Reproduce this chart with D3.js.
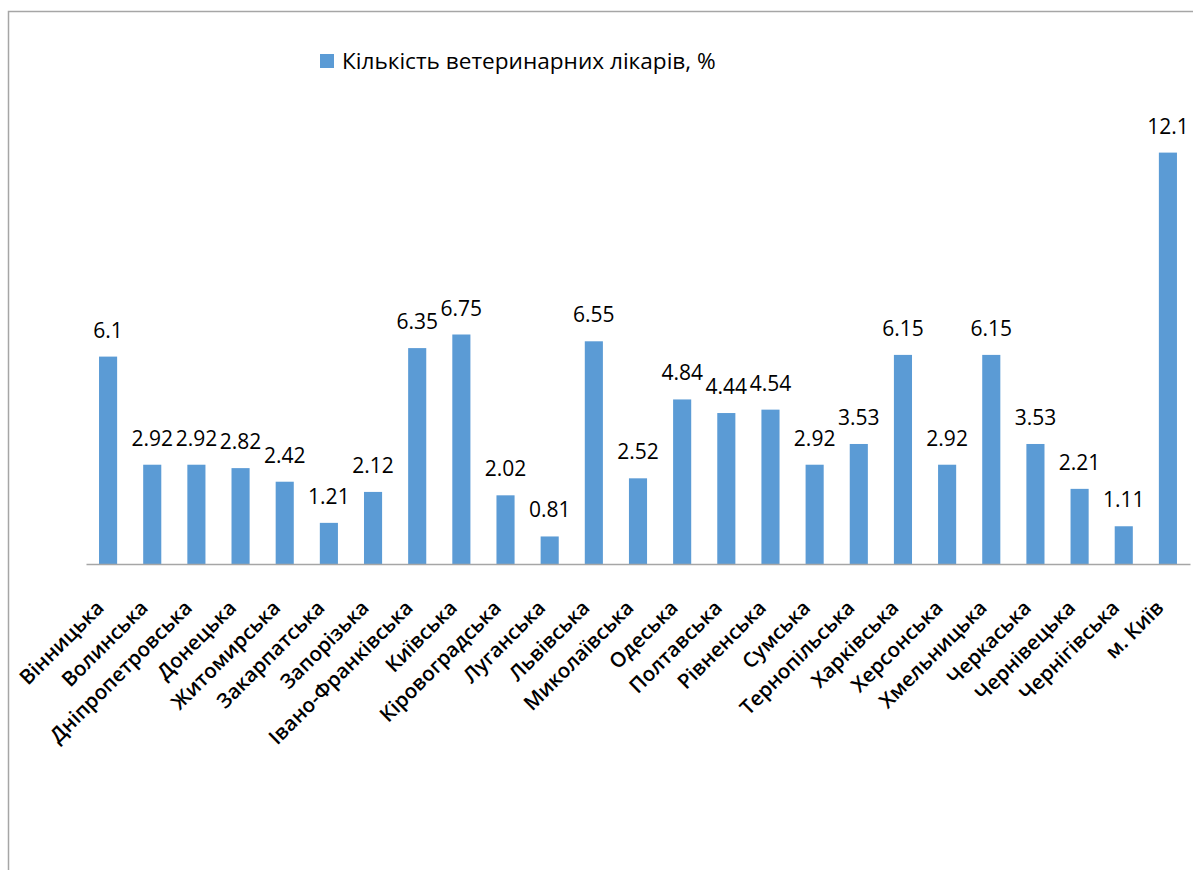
<!DOCTYPE html>
<html>
<head>
<meta charset="utf-8">
<script src="https://cdn.jsdelivr.net/npm/d3@7"></script>
<style>
  html, body { margin: 0; padding: 0; background: #fff; }
  svg { display: block; }
</style>
</head>
<body>
<svg id="chart" width="1193" height="870"></svg>
<script>
// Regions of Ukraine and share of veterinary doctors, %
const regions = [
  "Вінницька", "Волинська", "Дніпропетровська", "Донецька", "Житомирська",
  "Закарпатська", "Запорізька", "Івано-Франківська", "Київська", "Кіровоградська",
  "Луганська", "Львівська", "Миколаївська", "Одеська", "Полтавська",
  "Рівненська", "Сумська", "Тернопільська", "Харківська", "Херсонська",
  "Хмельницька", "Черкаська", "Чернівецька", "Чернігівська", "м. Київ"
];
const vets = [
  6.1, 2.92, 2.92, 2.82, 2.42,
  1.21, 2.12, 6.35, 6.75, 2.02,
  0.81, 6.55, 2.52, 4.84, 4.44,
  4.54, 2.92, 3.53, 6.15, 2.92,
  6.15, 3.53, 2.21, 1.11, 12.1
];
const seriesName = "Кількість ветеринарних лікарів, %";

const W = 1193, H = 870;
const svg = d3.select("#chart");
const barColor = "#5b9bd5";
const font = "'Open Sans', Lato, sans-serif";

// chart frame
svg.append("path")
  .attr("d", `M8.5,${H} V11.5 H${W}`)
  .attr("fill", "none")
  .attr("stroke", "#a6a6a6")
  .attr("stroke-width", 1.5);

const x = d3.scaleBand()
  .domain(regions)
  .range([86, 1190])
  .paddingInner(0.59)
  .paddingOuter(0.295);

const y = d3.scaleLinear()
  .domain([0, 14])
  .range([564, 564 - 14 * 34]);

// bars
svg.append("g")
  .selectAll("rect")
  .data(regions)
  .join("rect")
  .attr("x", d => x(d))
  .attr("y", (d, i) => y(vets[i]))
  .attr("width", x.bandwidth())
  .attr("height", (d, i) => y(0) - y(vets[i]))
  .attr("fill", barColor);

// category axis
const xAxis = svg.append("g")
  .attr("transform", `translate(0,${y(0)})`)
  .call(d3.axisBottom(x).tickSize(0).tickSizeOuter(0));
xAxis.select(".domain").attr("stroke", "#a6a6a6").attr("stroke-width", 1.5);
xAxis.selectAll("text")
  .attr("font-family", font)
  .attr("font-size", 20.5)
  .attr("font-weight", 600)
  .attr("fill", "#000")
  .attr("text-anchor", "end")
  .attr("dy", null)
  .attr("y", 0)
  .attr("transform", "translate(-3,45) rotate(-45)");

// value labels
svg.append("g")
  .selectAll("text")
  .data(regions)
  .join("text")
  .attr("x", d => x(d) + x.bandwidth() / 2)
  .attr("y", (d, i) => y(vets[i]) - 19)
  .attr("text-anchor", "middle")
  .attr("font-family", font)
  .attr("font-size", 21)
  .attr("fill", "#000")
  .text((d, i) => vets[i]);

// legend
const lg = svg.append("g").attr("transform", "translate(320,54)");
lg.append("rect").attr("width", 14).attr("height", 14).attr("fill", barColor);
lg.append("text")
  .attr("x", 22)
  .attr("y", 15)
  .attr("font-family", font)
  .attr("font-size", 22.6)
  .attr("fill", "#000")
  .text(seriesName);
</script>
</body>
</html>
